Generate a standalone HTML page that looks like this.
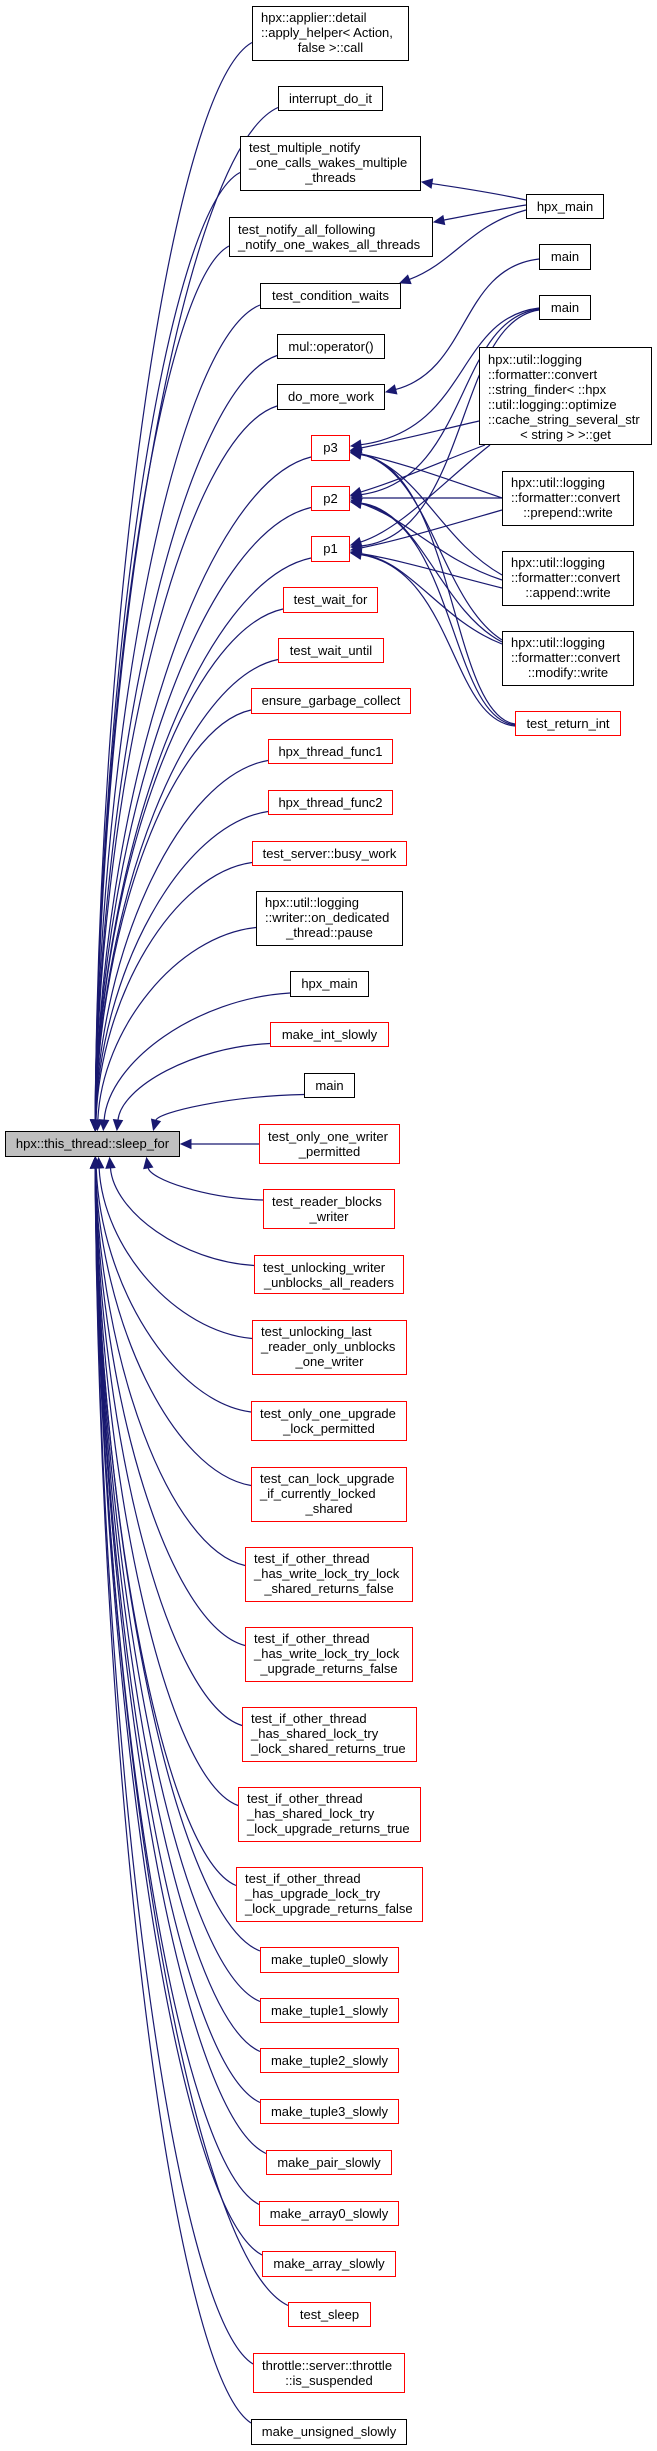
<!DOCTYPE html>
<html><head><meta charset="utf-8"><style>
body{margin:0;width:657px;height:2451px;background:#fff;position:relative;overflow:hidden;font-family:"Liberation Sans",Arial,sans-serif;}
.n{position:absolute;box-sizing:border-box;border:1px solid #000;background:#fff;font-size:13px;line-height:15px;color:#000;padding:3px 8px 0 8px;white-space:nowrap;}
.n.r{border-color:#f00;}
.n.s{text-align:center;line-height:23px;padding:0;}
.n .c{text-align:center;}
svg{position:absolute;left:0;top:0;}
</style></head><body>
<svg id="g" width="657" height="2451"></svg>

<div class="n s" style="left:5px;top:1131px;width:175px;height:26px;background:#bfbfbf">hpx::this_thread::sleep_for</div>

<div class="n" style="left:252px;top:6px;width:157px;height:55px"><div>hpx::applier::detail</div><div>::apply_helper&lt; Action,</div><div class="c">false &gt;::call</div></div>
<div class="n s" style="left:278px;top:86px;width:105px;height:25px">interrupt_do_it</div>
<div class="n" style="left:240px;top:136px;width:181px;height:55px"><div>test_multiple_notify</div><div>_one_calls_wakes_multiple</div><div class="c">_threads</div></div>
<div class="n" style="left:229px;top:217px;width:204px;height:40px;padding-top:4px"><div>test_notify_all_following</div><div>_notify_one_wakes_all_threads</div></div>
<div class="n s" style="left:260px;top:283px;width:141px;height:26px">test_condition_waits</div>
<div class="n s" style="left:277px;top:334px;width:108px;height:25px">mul::operator()</div>
<div class="n s" style="left:277px;top:384px;width:108px;height:26px">do_more_work</div>
<div class="n s r" style="left:311px;top:435px;width:39px;height:26px">p3</div>
<div class="n s r" style="left:311px;top:486px;width:39px;height:25px">p2</div>
<div class="n s r" style="left:311px;top:536px;width:39px;height:26px">p1</div>
<div class="n s r" style="left:283px;top:587px;width:95px;height:26px">test_wait_for</div>
<div class="n s r" style="left:278px;top:638px;width:106px;height:25px">test_wait_until</div>
<div class="n s r" style="left:251px;top:688px;width:160px;height:26px">ensure_garbage_collect</div>
<div class="n s r" style="left:268px;top:739px;width:125px;height:25px">hpx_thread_func1</div>
<div class="n s r" style="left:268px;top:790px;width:125px;height:25px">hpx_thread_func2</div>
<div class="n s r" style="left:252px;top:841px;width:155px;height:25px">test_server::busy_work</div>
<div class="n" style="left:256px;top:891px;width:147px;height:55px"><div>hpx::util::logging</div><div>::writer::on_dedicated</div><div class="c">_thread::pause</div></div>
<div class="n s" style="left:290px;top:971px;width:79px;height:26px">hpx_main</div>
<div class="n s r" style="left:270px;top:1022px;width:119px;height:25px">make_int_slowly</div>
<div class="n s" style="left:304px;top:1073px;width:51px;height:25px">main</div>
<div class="n r" style="left:259px;top:1124px;width:141px;height:40px;padding-top:4px"><div>test_only_one_writer</div><div class="c">_permitted</div></div>
<div class="n r" style="left:263px;top:1189px;width:132px;height:40px;padding-top:4px"><div>test_reader_blocks</div><div class="c">_writer</div></div>
<div class="n r" style="left:254px;top:1255px;width:150px;height:39px;padding-top:4px"><div>test_unlocking_writer</div><div class="c">_unblocks_all_readers</div></div>
<div class="n r" style="left:252px;top:1320px;width:155px;height:55px"><div>test_unlocking_last</div><div>_reader_only_unblocks</div><div class="c">_one_writer</div></div>
<div class="n r" style="left:251px;top:1401px;width:156px;height:40px;padding-top:4px"><div>test_only_one_upgrade</div><div class="c">_lock_permitted</div></div>
<div class="n r" style="left:251px;top:1467px;width:156px;height:55px"><div>test_can_lock_upgrade</div><div>_if_currently_locked</div><div class="c">_shared</div></div>
<div class="n r" style="left:245px;top:1547px;width:168px;height:55px"><div>test_if_other_thread</div><div>_has_write_lock_try_lock</div><div class="c">_shared_returns_false</div></div>
<div class="n r" style="left:245px;top:1627px;width:168px;height:55px"><div>test_if_other_thread</div><div>_has_write_lock_try_lock</div><div class="c">_upgrade_returns_false</div></div>
<div class="n r" style="left:242px;top:1707px;width:175px;height:55px"><div>test_if_other_thread</div><div>_has_shared_lock_try</div><div>_lock_shared_returns_true</div></div>
<div class="n r" style="left:238px;top:1787px;width:183px;height:55px"><div>test_if_other_thread</div><div>_has_shared_lock_try</div><div>_lock_upgrade_returns_true</div></div>
<div class="n r" style="left:236px;top:1867px;width:187px;height:55px"><div>test_if_other_thread</div><div>_has_upgrade_lock_try</div><div>_lock_upgrade_returns_false</div></div>
<div class="n s r" style="left:260px;top:1947px;width:139px;height:26px">make_tuple0_slowly</div>
<div class="n s r" style="left:260px;top:1998px;width:139px;height:25px">make_tuple1_slowly</div>
<div class="n s r" style="left:260px;top:2048px;width:139px;height:25px">make_tuple2_slowly</div>
<div class="n s r" style="left:260px;top:2099px;width:139px;height:25px">make_tuple3_slowly</div>
<div class="n s r" style="left:266px;top:2150px;width:126px;height:25px">make_pair_slowly</div>
<div class="n s r" style="left:259px;top:2201px;width:140px;height:25px">make_array0_slowly</div>
<div class="n s r" style="left:262px;top:2251px;width:134px;height:26px">make_array_slowly</div>
<div class="n s r" style="left:288px;top:2302px;width:83px;height:25px">test_sleep</div>
<div class="n r" style="left:253px;top:2353px;width:152px;height:40px;padding-top:4px"><div>throttle::server::throttle</div><div class="c">::is_suspended</div></div>
<div class="n s" style="left:251px;top:2419px;width:156px;height:26px">make_unsigned_slowly</div>

<div class="n s" style="left:526px;top:194px;width:78px;height:25px">hpx_main</div>
<div class="n s" style="left:539px;top:244px;width:52px;height:26px">main</div>
<div class="n s" style="left:539px;top:295px;width:52px;height:25px">main</div>
<div class="n" style="left:479px;top:347px;width:173px;height:98px;padding-top:4px"><div>hpx::util::logging</div><div>::formatter::convert</div><div>::string_finder&lt; ::hpx</div><div>::util::logging::optimize</div><div>::cache_string_several_str</div><div class="c">&lt; string &gt; &gt;::get</div></div>
<div class="n" style="left:502px;top:471px;width:132px;height:55px"><div>hpx::util::logging</div><div>::formatter::convert</div><div class="c">::prepend::write</div></div>
<div class="n" style="left:502px;top:551px;width:132px;height:55px"><div>hpx::util::logging</div><div>::formatter::convert</div><div class="c">::append::write</div></div>
<div class="n" style="left:502px;top:631px;width:132px;height:55px"><div>hpx::util::logging</div><div>::formatter::convert</div><div class="c">::modify::write</div></div>
<div class="n s r" style="left:515px;top:711px;width:106px;height:25px">test_return_int</div>

<script>
(function(){
var g=document.getElementById('g'),NS='http://www.w3.org/2000/svg',C='#191970';
function edge(a){
 var p=document.createElementNS(NS,'path');
 var x2=a[6],y2=a[7],dx=x2-a[4],dy=y2-a[5],L=Math.sqrt(dx*dx+dy*dy)||1;dx/=L;dy/=L;
 var bx=x2-dx*10,by=y2-dy*10;
 p.setAttribute('d','M'+a[0]+','+a[1]+' C'+a[2]+','+a[3]+' '+a[4]+','+a[5]+' '+bx+','+by);
 p.setAttribute('fill','none');p.setAttribute('stroke',C);p.setAttribute('stroke-width','1.2');g.appendChild(p);
 var t=document.createElementNS(NS,'polygon');
 t.setAttribute('points',x2+','+y2+' '+(bx-dy*4.5)+','+(by+dx*4.5)+' '+(bx+dy*4.5)+','+(by-dx*4.5));
 t.setAttribute('fill',C);t.setAttribute('stroke',C);g.appendChild(t);
}
var nodes=document.querySelectorAll('.n');
for(var i=1;i<nodes.length;i++){
 var n=nodes[i],x=n.offsetLeft,y=n.offsetTop,h=n.offsetHeight;
 if(x>470)continue;
 var cy=y+h/2;
 if(cy>1131&&cy<1160){edge([x,1144,220,1144,200,1144,181,1144]);continue;}
 var up=cy<1144,d=Math.abs(cy-1144);
 var ex=95+Math.min(180*Math.exp(-d/52),75);
 var ey=up?1130:1158;
 var sy=up?Math.min(y+h,cy+9):Math.max(y,cy-9);
 var sx=x,w=sx-ex;
 var dd=Math.abs(ey-sy),s=up?1:-1;
 edge([sx,sy,sx-0.5*w,sy+s*0.04*dd,ex+0.03*w,sy+s*0.5*dd,ex,ey]);
}
var R=[
[526,200,490,192,460,188,422,182],
[526,205,495,210,465,216,434,222],
[526,210,470,225,455,262,400,283],
[539,259,460,268,470,370,386,392],
[539,308,455,318,470,430,351,446],
[539,309,455,320,470,480,351,496],
[539,310,455,322,470,535,351,547],
[479,421,440,430,400,440,351,450],
[485,445,440,462,400,480,351,495],
[490,445,445,480,400,530,351,545],
[502,498,450,480,400,462,351,452],
[502,498,450,498,400,498,351,498],
[502,510,450,525,400,540,351,550],
[502,575,440,540,420,470,351,451],
[502,580,440,560,410,520,351,500],
[502,588,450,575,400,560,351,552],
[502,640,440,600,430,470,351,452],
[502,642,440,610,420,510,351,502],
[502,644,440,620,410,560,351,553],
[515,724,450,715,455,470,351,453],
[515,725,450,718,455,520,351,502],
[515,726,450,720,455,570,351,553]
];
R.forEach(edge);
})();
</script>
</body></html>
